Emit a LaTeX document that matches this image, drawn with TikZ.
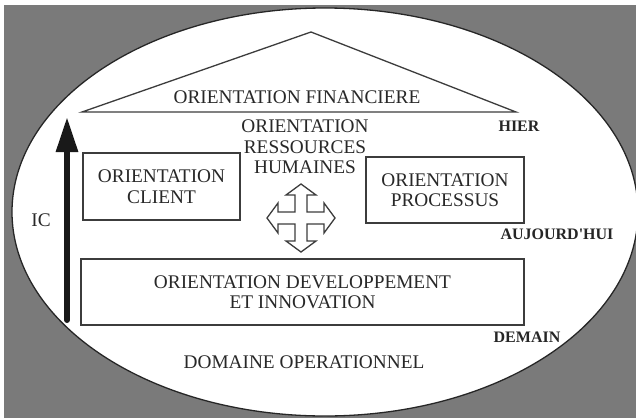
\documentclass[tikz,border=0pt]{standalone}
\usepackage{fontspec}
\setmainfont{Liberation Serif}
\usetikzlibrary{arrows.meta, positioning, calc}
\definecolor{bgcolor}{RGB}{122,122,122}
\definecolor{linecolor}{RGB}{60,60,60}
\definecolor{textcolor}{RGB}{40,40,40}

\begin{document}
\begin{tikzpicture}[
    x=1pt, y=-1pt,
    box/.style={
        rectangle,
        draw=linecolor,
        line width=1.5pt,
        inner sep=0pt,
        align=center,
        text=textcolor,
        font=\fontsize{19.3}{20.5}\selectfont
    },
    orient/.style={
        inner sep=0pt,
        align=center,
        text=textcolor,
        font=\fontsize{19.3}{20.5}\selectfont
    },
    timelabel/.style={
        inner sep=0pt,
        text=black!85,
        font=\fontsize{16}{18}\selectfont\bfseries
    },
    icarrow/.style={
        line width=6pt,
        draw=black!90,
        line cap=round,
        -{Triangle[length=35pt, width=21pt]}
    },
    crossarrow/.style={
        draw=linecolor,
        line width=1.3pt,
        fill=white,
        line join=miter
    }
]

\useasboundingbox (0,0) rectangle (636,418);

% Background and domain ellipse
\fill[bgcolor] (4,5) rectangle (636,418);
\draw[fill=white, draw=black!85, line width=1.3pt] (325,212) ellipse [x radius=313pt, y radius=204pt];

% Roof
\coordinate (roofleft) at (82,112);
\coordinate (rooftop) at (311,32);
\coordinate (roofright) at (516,112);
\draw[linecolor, line width=1.3pt] (roofleft) -- (rooftop) -- (roofright) -- cycle;

% Orientation nodes
\node[orient] (finance) at (297,97) {ORIENTATION FINANCIERE};
\node[orient] (rh) at (305,147) {ORIENTATION\\RESSOURCES\\HUMAINES};

\node[box, minimum width=157pt, minimum height=67pt] (client) at (161.5,186.5) {ORIENTATION\\CLIENT};
\node[box, minimum width=158pt, minimum height=66pt] (processus) at (445,190) {ORIENTATION\\PROCESSUS};
\node[box, minimum width=443pt, minimum height=66pt] (dev) at (302.5,292) {ORIENTATION DEVELOPPEMENT\\ET INNOVATION};

\node[orient] (domaine) at (304,362) {DOMAINE OPERATIONNEL};

% Time labels
\node[timelabel] (hier) at (519,126) {HIER};
\node[timelabel] (aujourdhui) at (557,234) {AUJOURD\textquotesingle HUI};
\node[timelabel] (demain) at (527,337) {DEMAIN};

% IC arrow
\node[orient] (ic) at (41,220) {IC};
\coordinate (icfoot) at (67,320);
\coordinate (ictip) at (67,117);
\draw[icarrow] (icfoot) -- (ictip);

% Four-way arrow
\coordinate (cross) at (301,218);
\draw[crossarrow, shift={(cross)}]
    (0,-34) -- (15,-23) -- (6,-23) -- (6,-6) -- (23,-6) -- (23,-15) -- (34,0)
    -- (23,15) -- (23,6) -- (6,6) -- (6,23) -- (15,23) -- (0,34)
    -- (-15,23) -- (-6,23) -- (-6,6) -- (-23,6) -- (-23,15) -- (-34,0)
    -- (-23,-15) -- (-23,-6) -- (-6,-6) -- (-6,-23) -- (-15,-23) -- cycle;

\end{tikzpicture}
\end{document}
